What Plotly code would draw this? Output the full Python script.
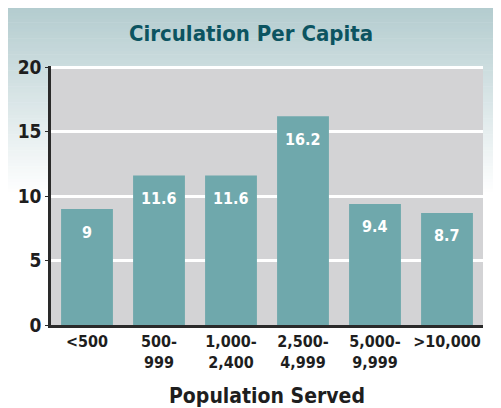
import plotly.graph_objects as go

categories = ["<500", "500-<br>999", "1,000-<br>2,400", "2,500-<br>4,999", "5,000-<br>9,999", ">10,000"]
values = [9, 11.6, 11.6, 16.2, 9.4, 8.7]
y_ticks = [0, 5, 10, 15, 20]

FONT = "DejaVu Sans Condensed"
# page body adds an 8px offset, so the figure is drawn 8px smaller
OFF = 8
W, H = 501 - OFF, 408 - OFF
ML, MR, MT, MB = 51 - OFF, 18, 66 - OFF, 83
pw, ph = W - ML - MR, H - MT - MB

def fnt(size, color):
    return dict(family=FONT, size=size, color=color, weight="bold")

fig = go.Figure()
fig.add_trace(go.Bar(
    x=categories, y=values,
    marker=dict(color="#6fa8ac", line=dict(width=0)),
    hoverinfo="skip",
))

# value labels inside bars
for c, v in zip(categories, values):
    fig.add_annotation(x=c, y=v, text=f"{v:g}", showarrow=False,
                       yanchor="middle", yshift=-23,
                       font=fnt(16, "white"))

# gradient header background (decorative)
def px2x(px):
    return (px - OFF - ML) / pw
def py2y(py):
    return (H - MB - (py - OFF)) / ph

top_px, bot_px = 3, 195
n = 60
c0 = (178, 203, 206)
for i in range(n):
    f = i / (n - 1)
    col = tuple(round(c0[k] + (255 - c0[k]) * f) for k in range(3))
    y1 = top_px + (bot_px - top_px) * i / n
    y2 = top_px + (bot_px - top_px) * (i + 1) / n + 0.5
    fig.add_shape(type="rect", xref="paper", yref="paper", layer="below",
                  x0=px2x(8), x1=px2x(501), y0=py2y(y2), y1=py2y(y1),
                  fillcolor="rgb(%d,%d,%d)" % col, line=dict(width=0))
# plot area fill over the gradient
fig.add_shape(type="rect", xref="paper", yref="paper", layer="below",
              x0=0, x1=1, y0=0, y1=1, fillcolor="#d3d3d5", line=dict(width=0))

fig.update_layout(
    width=W, height=H,
    margin=dict(l=ML, r=MR, t=MT, b=MB, autoexpand=False),
    paper_bgcolor="white",
    plot_bgcolor="#d3d3d5",
    bargap=0.28,
    showlegend=False,
    title=dict(text="Circulation Per Capita", x=(251 - OFF) / W, xref="container",
               xanchor="center",
               y=1 - (33 - OFF) / H, yanchor="middle",
               font=fnt(22, "#0c5461")),
    xaxis=dict(
        automargin=False,
        tickfont=fnt(16, "#1e1e1e"),
        showline=True, linecolor="#2a2a2a", linewidth=2.5,
        showgrid=False, ticks="",
        title=dict(text="Population Served", standoff=18,
                   font=fnt(21, "#1e1e1e")),
    ),
    yaxis=dict(
        automargin=False,
        range=[0, 20.1], tickvals=y_ticks,
        tickfont=fnt(19, "#1e1e1e"),
        showline=True, linecolor="#2a2a2a", linewidth=2.5,
        showgrid=True, gridcolor="white", gridwidth=2.5,
        zeroline=False, ticks="outside", ticklen=3, tickcolor="#2a2a2a",
    ),
)

fig.write_html("out.html")
